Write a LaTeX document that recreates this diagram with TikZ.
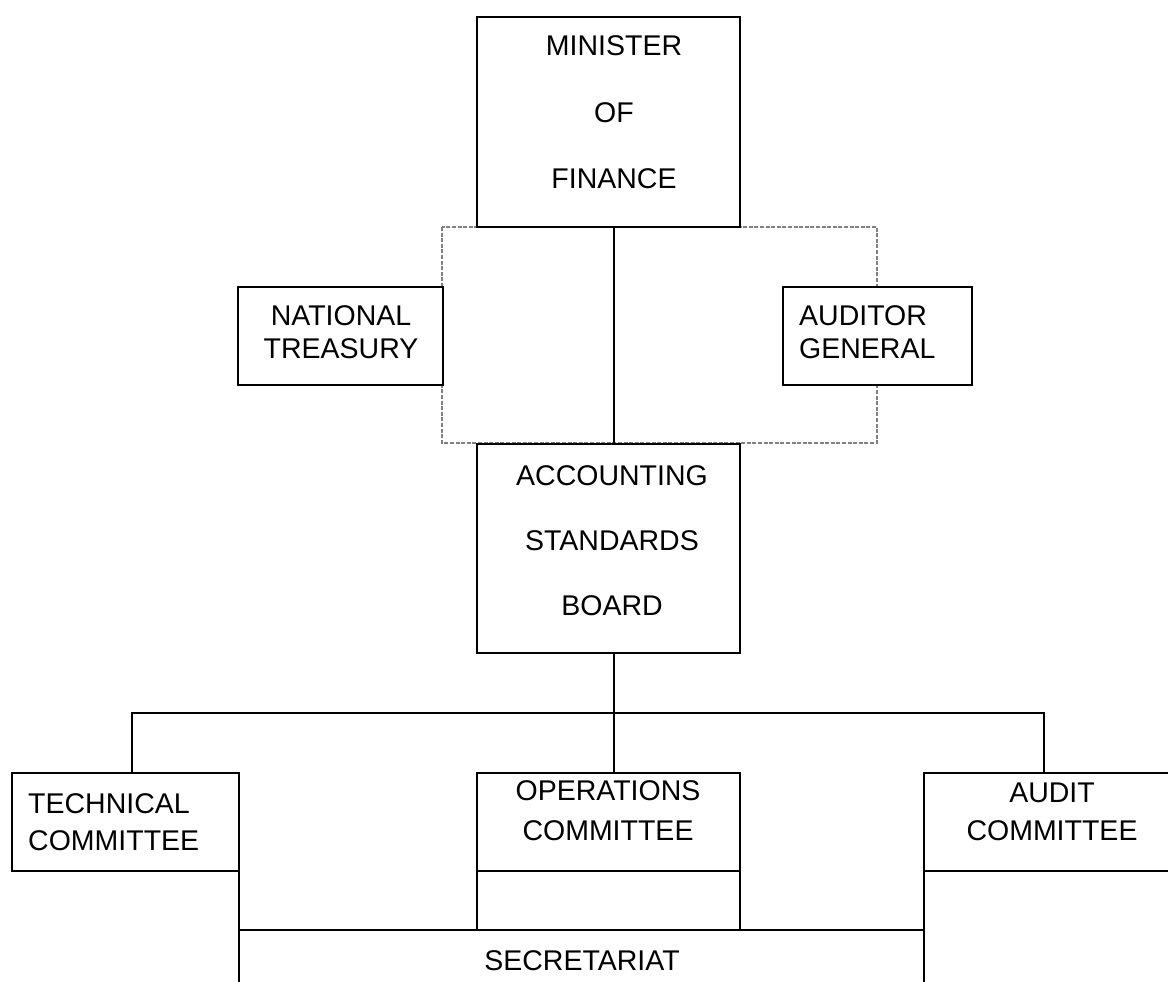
\documentclass[tikz,border=0pt]{standalone}
\usepackage{fontspec}
\setmainfont{Liberation Sans}
\begin{document}
\begin{tikzpicture}[x=1pt,y=-1pt,
  conn/.style={draw=black,line width=2pt},
  dashedlink/.style={draw=black!50,line width=1.2pt,dash pattern=on 4pt off 1.6pt},
  lbl/.style={inner sep=0pt,font=\fontsize{28.5}{30}\selectfont,text=black},
  bx/.style={draw=black,fill=white,line width=2pt,inner sep=0pt,outer sep=0pt,anchor=north west}]
\useasboundingbox (0,0) rectangle (1168,982);
\clip (0,0) rectangle (1168,982);
% dashed frame
\draw[dashedlink] (442,227) rectangle (877,443);
% boxes
\node[bx,minimum width=263pt,minimum height=210pt] (min) at (477,17) {};
\node[bx,minimum width=205pt,minimum height=98pt] (nt) at (238,287) {};
\node[bx,minimum width=189pt,minimum height=98pt] (ag) at (783,287) {};
\node[bx,minimum width=263pt,minimum height=209pt] (asb) at (477,444) {};
\node[bx,minimum width=227pt,minimum height=98pt] (tc) at (12,773) {};
\node[bx,minimum width=263pt,minimum height=98pt] (oc) at (477,773) {};
\node[bx,minimum width=260pt,minimum height=98pt] (ac) at (924,773) {};
% coordinates
\coordinate (minb) at (614,227);
\coordinate (asbt) at (614,444);
\coordinate (asbb) at (614,653);
\coordinate (hub) at (614,713);
\coordinate (hl) at (132,713);
\coordinate (hr) at (1044,713);
\coordinate (tct) at (132,773);
\coordinate (oct) at (614,773);
\coordinate (act) at (1044,773);
\coordinate (ocbl) at (477,930);
\coordinate (ocbr) at (740,930);
\coordinate (secl) at (239,930);
\coordinate (secr) at (924,930);
\coordinate (secbl) at (239,990);
\coordinate (secbr) at (924,990);
% connectors
\draw[conn] (minb) -- (asbt);
\draw[conn] (asbb) -- (hub);
\draw[conn,line cap=rect] (hl) -- (hr);
\draw[conn] (hl) -- (tct);
\draw[conn] (hub) -- (oct);
\draw[conn] (hr) -- (act);
\draw[conn] (oc.south west) -- (ocbl);
\draw[conn] (oc.south east) -- (ocbr);
\draw[conn] (secl) -- (secr);
\draw[conn] (tc.south east) -- (secbl);
\draw[conn] (ac.south west) -- (secbr);
% texts
\node[lbl,anchor=base] (t1) at (614,56) {MINISTER};
\node[lbl,anchor=base] (t2) at (614,122) {OF};
\node[lbl,anchor=base] (t3) at (614,188) {FINANCE};
\node[lbl,anchor=base] (t4) at (341,325) {NATIONAL};
\node[lbl,anchor=base] (t5) at (341,358) {TREASURY};
\node[lbl,anchor=base west] (t6) at (799,325) {AUDITOR};
\node[lbl,anchor=base west] (t7) at (799,358) {GENERAL};
\node[lbl,anchor=base] (t8) at (612,485) {ACCOUNTING};
\node[lbl,anchor=base] (t9) at (612,550) {STANDARDS};
\node[lbl,anchor=base] (t10) at (612,615) {BOARD};
\node[lbl,anchor=base west] (t11) at (28,813) {TECHNICAL};
\node[lbl,anchor=base west] (t12) at (28,850) {COMMITTEE};
\node[lbl,anchor=base] (t13) at (608,800) {OPERATIONS};
\node[lbl,anchor=base] (t14) at (608,840) {COMMITTEE};
\node[lbl,anchor=base] (t15) at (1052,802) {AUDIT};
\node[lbl,anchor=base] (t16) at (1052,840) {COMMITTEE};
\node[lbl,anchor=base] (t17) at (582,970) {SECRETARIAT};
\end{tikzpicture}
\end{document}
